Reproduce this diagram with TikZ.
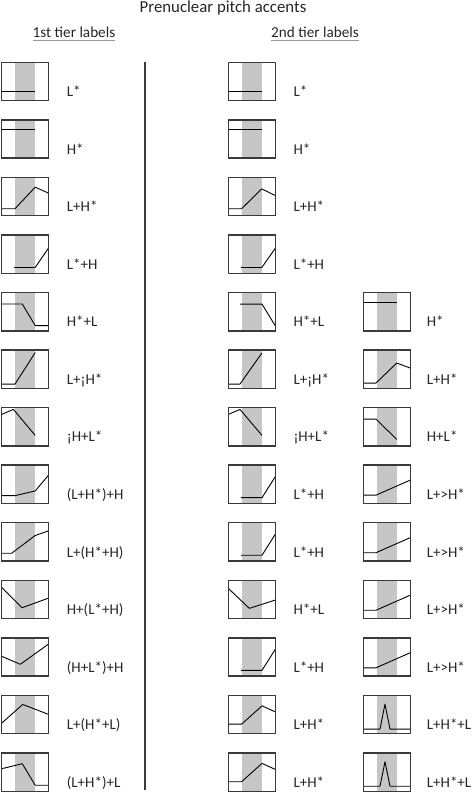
\documentclass[tikz,border=0pt]{standalone}
\usepackage{fontspec}
\setmainfont{Carlito}
\definecolor{bandgray}{HTML}{C6C6C6}
\definecolor{framegray}{HTML}{3A3A3A}
\definecolor{txt}{HTML}{262626}
\newcommand\rowtop[1]{(62.3+(#1-1)*57.55)}
\newcommand\accbox[3]{%
  \begin{scope}[shift={(#1,{-\rowtop{#2}-38.3})}]
    \fill[bandgray] (13.3,0) rectangle (33.6,38.3);
    \draw[contour] #3;
    \draw[frame] (0,0) rectangle (47,38.3);
  \end{scope}}
\newcommand\acclab[4]{\node[lab] (#1) at (#2,{-\rowtop{#3}-34.3}) {#4};}
\begin{document}
\begin{tikzpicture}[x=1pt,y=1pt,
  frame/.style={draw=framegray,line width=1.4pt},
  contour/.style={draw=black,line width=0.9pt,line join=round},
  lab/.style={anchor=base west,inner sep=0pt,font=\fontsize{15}{18}\selectfont,text=txt},
  head/.style={anchor=base,inner sep=0pt,font=\fontsize{15.2}{18}\selectfont,text=txt},
  uline/.style={draw=gray!80,line width=0.8pt}]
\useasboundingbox (0,0) rectangle (472,-793);
% title and headings
\node[anchor=base,inner sep=0pt,font=\fontsize{16.8}{20}\selectfont,text=txt] (title) at (223,-12.4) {Prenuclear pitch accents};
\node[head] (h1) at (74,-37.6) {1st tier labels};
\node[head] (h2) at (315,-37.6) {2nd tier labels};
\draw[uline] ([yshift=-2.8pt]h1.base west) -- ([yshift=-2.8pt]h1.base east);
\draw[uline] ([yshift=-2.8pt]h2.base west) -- ([yshift=-2.8pt]h2.base east);
% divider
\coordinate (dtop) at (145,-62);
\coordinate (dbot) at (145,-790);
\draw[framegray,line width=1.3pt] (dtop) -- (dbot);
% ---------- left column ----------
\accbox{1.7}{1}{(0,9.3) -- (33.5,9.3)}
\accbox{1.7}{2}{(0,28.5) -- (33.5,28.5)}
\accbox{1.7}{3}{(0,7) -- (13.3,7) -- (33.5,28.5) -- (47,22.5)}
\accbox{1.7}{4}{(12.5,5.8) -- (33.5,5.8) -- (47,25.5)}
\accbox{1.7}{5}{(0,26.8) -- (20.6,26.8) -- (33.5,5.2) -- (47,5.2)}
\accbox{1.7}{6}{(0,4.2) -- (13.3,4.2) -- (33.5,35.8)}
\accbox{1.7}{7}{(0,31.5) -- (11.7,36.5) -- (33.5,10.5)}
\accbox{1.7}{8}{(0,7.8) -- (13.3,7.8) -- (33.5,12.5) -- (47,28.5)}
\accbox{1.7}{9}{(0,7.8) -- (10,7.8) -- (33.5,25.5) -- (47,30.2)}
\accbox{1.7}{10}{(0,31.2) -- (20.3,10.8) -- (47,20.5)}
\accbox{1.7}{11}{(0,19.8) -- (18.6,11.8) -- (47,32.2)}
\accbox{1.7}{12}{(0,10.5) -- (21,29.2) -- (47,19.2)}
\accbox{1.7}{13}{(0,22.5) -- (20.6,27.5) -- (33.5,6) -- (47,6)}
\acclab{a1}{66.7}{1}{L*}
\acclab{a2}{66.7}{2}{H*}
\acclab{a3}{66.7}{3}{L+H*}
\acclab{a4}{66.7}{4}{L*+H}
\acclab{a5}{66.7}{5}{H*+L}
\acclab{a6}{66.7}{6}{L+¡H*}
\acclab{a7}{66.7}{7}{¡H+L*}
\acclab{a8}{66.7}{8}{(L+H*)+H}
\acclab{a9}{66.7}{9}{L+(H*+H)}
\acclab{a10}{66.7}{10}{H+(L*+H)}
\acclab{a11}{66.7}{11}{(H+L*)+H}
\acclab{a12}{66.7}{12}{L+(H*+L)}
\acclab{a13}{66.7}{13}{(L+H*)+L}
% ---------- middle column ----------
\accbox{228.3}{1}{(0,9.3) -- (33.5,9.3)}
\accbox{228.3}{2}{(0,28.5) -- (33.5,28.5)}
\accbox{228.3}{3}{(0,7) -- (13.3,7) -- (33.4,26.8) -- (47,20.2)}
\accbox{228.3}{4}{(12.7,5.8) -- (33.5,5.8) -- (47,25)}
\accbox{228.3}{5}{(11.7,26.7) -- (33.7,26.7) -- (47,5)}
\accbox{228.3}{6}{(0,4.3) -- (11.7,4.3) -- (33.7,35.5)}
\accbox{228.3}{7}{(0,31.5) -- (11.7,36.5) -- (33.7,10.5)}
\accbox{228.3}{8}{(12.7,5.8) -- (33.7,5.8) -- (47,26.8)}
\accbox{228.3}{9}{(12.7,5.8) -- (33.7,5.8) -- (47,26.8)}
\accbox{228.3}{10}{(0,30.2) -- (21,10.2) -- (47,18.5)}
\accbox{228.3}{11}{(12.7,5.8) -- (33.7,5.8) -- (47,26.8)}
\accbox{228.3}{12}{(0,9.5) -- (13.3,9.5) -- (33.7,27.8) -- (47,21.8)}
\accbox{228.3}{13}{(0,9.5) -- (13.3,9.5) -- (33.7,27.8) -- (47,21.8)}
\acclab{b1}{293.3}{1}{L*}
\acclab{b2}{293.3}{2}{H*}
\acclab{b3}{293.3}{3}{L+H*}
\acclab{b4}{293.3}{4}{L*+H}
\acclab{b5}{293.3}{5}{H*+L}
\acclab{b6}{293.3}{6}{L+¡H*}
\acclab{b7}{293.3}{7}{¡H+L*}
\acclab{b8}{293.3}{8}{L*+H}
\acclab{b9}{293.3}{9}{L*+H}
\acclab{b10}{293.3}{10}{H*+L}
\acclab{b11}{293.3}{11}{L*+H}
\acclab{b12}{293.3}{12}{L+H*}
\acclab{b13}{293.3}{13}{L+H*}
% ---------- right column ----------
\accbox{363.3}{5}{(0,28.5) -- (33.7,28.5)}
\accbox{363.3}{6}{(0,5.3) -- (12.7,5.3) -- (33.4,25.3) -- (47,20.3)}
\accbox{363.3}{7}{(0,26.8) -- (12.7,26.8) -- (33.4,6.5)}
\accbox{363.3}{8}{(0,8.3) -- (12.7,8.3) -- (47,23.4)}
\accbox{363.3}{9}{(0,8.3) -- (12.7,8.3) -- (47,23.4)}
\accbox{363.3}{10}{(0,8.3) -- (12.7,8.3) -- (47,23.4)}
\accbox{363.3}{11}{(0,8.3) -- (12.7,8.3) -- (47,23.4)}
\accbox{363.3}{12}{(0,4.5) -- (16.7,4.5) -- (21.7,29.5) -- (26.7,4.5) -- (47,4.5)}
\accbox{363.3}{13}{(0,5) -- (16.7,5) -- (21.7,29.5) -- (26.7,5) -- (47,5)}
\acclab{c5}{426.7}{5}{H*}
\acclab{c6}{426.7}{6}{L+H*}
\acclab{c7}{426.7}{7}{H+L*}
\acclab{c8}{426.7}{8}{L+>H*}
\acclab{c9}{426.7}{9}{L+>H*}
\acclab{c10}{426.7}{10}{L+>H*}
\acclab{c11}{426.7}{11}{L+>H*}
\acclab{c12}{426.7}{12}{L+H*+L}
\acclab{c13}{426.7}{13}{L+H*+L}
\end{tikzpicture}
\end{document}
